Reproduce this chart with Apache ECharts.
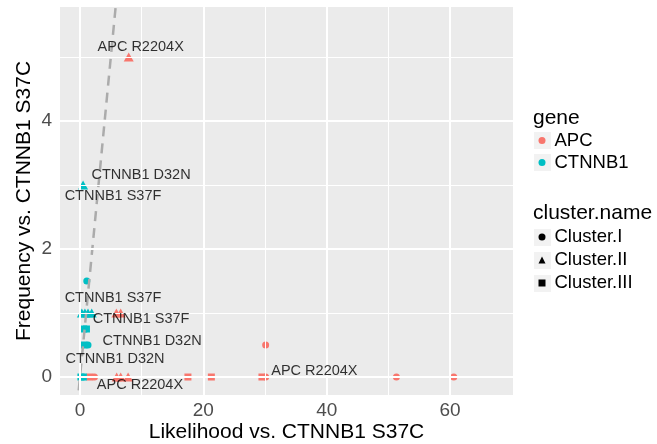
<!DOCTYPE html>
<html>
<head>
<meta charset="utf-8">
<script src="https://cdn.jsdelivr.net/npm/echarts@6/dist/echarts.min.js"></script>
<style>
  html, body { margin: 0; padding: 0; background: #ffffff; }
  #chart { width: 657px; height: 444px; }
</style>
</head>
<body>
<div id="chart"></div>
<script>
// ---- data -------------------------------------------------------------
const genes = ['APC', 'CTNNB1'];
const clusters = ['Cluster.I', 'Cluster.II', 'Cluster.III'];

const apcLikelihood = [7.9, 5.9, 6.6, 5.95, 6.6, 7.8, 1.6, 17.5, 21.3, 29.5, 2.35, 30.1, 30.1, 51.3, 60.6];
const apcFrequency  = [5, 1, 1, 0, 0, 0, 0, 0, 0, 0, 0, 0, 0.5, 0, 0];
const apcCluster    = ['Cluster.II', 'Cluster.II', 'Cluster.II', 'Cluster.II', 'Cluster.II', 'Cluster.II',
                       'Cluster.III', 'Cluster.III', 'Cluster.III', 'Cluster.III',
                       'Cluster.I', 'Cluster.I', 'Cluster.I', 'Cluster.I', 'Cluster.I'];

const ctnnb1Likelihood = [0.5, 1.1, 0.3, 0.8, 1.3, 1.9, 0.6, 1.05, 0.65, 1.3, 0.15, 0.55];
const ctnnb1Frequency  = [3, 1.5, 1, 1, 1, 1, 0.75, 0.75, 0.5, 0.5, 0, 0];
const ctnnb1Cluster    = ['Cluster.II', 'Cluster.I', 'Cluster.II', 'Cluster.II', 'Cluster.II', 'Cluster.II',
                          'Cluster.III', 'Cluster.III', 'Cluster.III', 'Cluster.I', 'Cluster.III', 'Cluster.III'];

const mutationLabels  = ['APC R2204X', 'CTNNB1 D32N', 'CTNNB1 S37F', 'CTNNB1 S37F', 'CTNNB1 S37F',
                         'CTNNB1 D32N', 'CTNNB1 D32N', 'APC R2204X', 'APC R2204X'];
const labelLikelihood = [9.84, 9.9, 5.35, 5.35, 9.9, 11.7, 5.67, 38.0, 9.72];
const labelFrequency  = [5.16, 3.16, 2.83, 1.23, 0.90, 0.57, 0.28, 0.10, -0.125];

const xTicks = [0, 20, 40, 60];
const xMinorTicks = [10, 30, 50];
const yTicks = [0, 2, 4];
const yMinorTicks = [1, 3, 5];
const xRange = [-3.24, 70.2];
const yRange = [-0.281, 5.78];
const identityLine = [[-1, -1], [7, 7]];   // y = x reference

// ---- styling ----------------------------------------------------------
const FONT = '"Liberation Sans", Arial, Helvetica, sans-serif';
const geneColor = { 'APC': '#F8766D', 'CTNNB1': '#00BFC4' };
const clusterSymbol = { 'Cluster.I': 'circle', 'Cluster.II': 'triangle', 'Cluster.III': 'rect' };
const clusterSymbolSize = { 'Cluster.I': 7, 'Cluster.II': [10, 9], 'Cluster.III': 7 };

function pointData(xs, ys, cs) {
  return xs.map((x, i) => ({
    value: [x, ys[i]],
    symbol: clusterSymbol[cs[i]],
    symbolSize: clusterSymbolSize[cs[i]]
  }));
}

function gridLines(values, key, width) {
  return values.map(v => ({ [key]: v, lineStyle: { color: '#ffffff', width: width, type: 'solid' } }));
}

const chart = echarts.init(document.getElementById('chart'), null, { renderer: 'canvas' });

// legend key backgrounds and legend titles
const keyBoxes = [];
const legendRowsY = [140.5, 162.5, 237.5, 260.5, 283.5];
legendRowsY.forEach(cy => {
  keyBoxes.push({
    type: 'rect', z: 1, silent: true,
    shape: { x: 534, y: cy - 8.5, width: 17, height: 17 },
    style: { fill: '#F2F2F2' }
  });
});

const option = {
  animation: false,
  backgroundColor: '#ffffff',
  textStyle: { fontFamily: FONT },
  grid: {
    left: 60, right: 144, top: 7, bottom: 49,
    show: true, backgroundColor: '#EBEBEB', borderWidth: 0,
    containLabel: false, outerBoundsMode: 'none'
  },
  xAxis: {
    type: 'value', min: xRange[0], max: xRange[1],
    name: 'Likelihood vs. CTNNB1 S37C', nameLocation: 'middle', nameGap: 27,
    nameMoveOverlap: false,
    nameTextStyle: { fontSize: 21, color: '#000000', fontFamily: FONT },
    axisLine: { show: false },
    splitLine: { show: false },
    axisTick: { show: true, customValues: xTicks, length: 4, lineStyle: { color: '#333333', width: 1.8 } },
    axisLabel: { customValues: xTicks, fontSize: 19, color: '#4D4D4D', margin: 6, fontFamily: FONT }
  },
  yAxis: {
    type: 'value', min: yRange[0], max: yRange[1],
    name: 'Frequency vs. CTNNB1 S37C', nameLocation: 'middle', nameGap: 25,
    nameMoveOverlap: false,
    nameTextStyle: { fontSize: 21, color: '#000000', fontFamily: FONT },
    axisLine: { show: false },
    splitLine: { show: false },
    axisTick: { show: true, customValues: yTicks, length: 4, lineStyle: { color: '#333333', width: 1.8 } },
    axisLabel: { customValues: yTicks, fontSize: 19, color: '#4D4D4D', margin: 8, fontFamily: FONT }
  },
  legend: [
    {
      data: genes.map(g => ({ name: g, icon: 'circle' })),
      orient: 'vertical', left: 538.5, top: 129.5, padding: 0,
      itemWidth: 7, itemHeight: 7, itemGap: 0, selectedMode: false,
      textStyle: { fontSize: 18.5, color: '#000000', fontFamily: FONT, lineHeight: 22, padding: [0, 0, 0, 4] }
    },
    {
      data: clusters.map(c => ({ name: c, icon: clusterSymbol[c] })),
      orient: 'vertical', left: 538.5, top: 226, padding: 0,
      itemWidth: 7, itemHeight: 7, itemGap: 1, selectedMode: false,
      textStyle: { fontSize: 18.5, color: '#000000', fontFamily: FONT, lineHeight: 22, padding: [0, 0, 0, 4] }
    }
  ],
  graphic: keyBoxes.concat([
    { type: 'text', z: 2, silent: true, left: 533, top: 108,
      style: { text: 'gene', fontSize: 21, fill: '#000000', fontFamily: FONT } },
    { type: 'text', z: 2, silent: true, left: 533, top: 203,
      style: { text: 'cluster.name', fontSize: 21, fill: '#000000', fontFamily: FONT } }
  ]),
  series: [
    {
      // panel grid lines
      type: 'scatter', name: 'panel-grid', data: [], silent: true, z: 1,
      markLine: {
        silent: true, symbol: ['none', 'none'], label: { show: false }, animation: false,
        data: [].concat(
          gridLines(xMinorTicks, 'xAxis', 1), gridLines(yMinorTicks, 'yAxis', 1),
          gridLines(xTicks, 'xAxis', 2), gridLines(yTicks, 'yAxis', 2)
        )
      }
    },
    {
      type: 'scatter', name: 'APC', z: 3,
      itemStyle: { color: geneColor['APC'], opacity: 1 },
      data: pointData(apcLikelihood, apcFrequency, apcCluster)
    },
    {
      type: 'scatter', name: 'CTNNB1', z: 3,
      itemStyle: { color: geneColor['CTNNB1'], opacity: 1 },
      data: pointData(ctnnb1Likelihood, ctnnb1Frequency, ctnnb1Cluster)
    },
    ...clusters.map(c => ({
      type: 'scatter', name: c, data: [], symbol: clusterSymbol[c],
      itemStyle: { color: '#000000', opacity: 1 }
    })),
    {
      type: 'line', name: 'identity', data: identityLine, z: 4,
      showSymbol: false, symbol: 'none', clip: true, silent: true,
      lineStyle: { color: '#ABABAB', width: 2.5, type: [10, 7] }
    },
    {
      type: 'scatter', name: 'mutation-labels', z: 5, silent: true,
      symbolSize: 0,
      data: mutationLabels.map((t, i) => ({ value: [labelLikelihood[i], labelFrequency[i]], name: t })),
      label: {
        show: true, position: 'inside', formatter: p => p.name,
        fontSize: 14.5, color: '#000000', fontFamily: FONT
      },
      labelLayout: { hideOverlap: false }
    }
  ]
};

chart.setOption(option);
</script>
</body>
</html>
